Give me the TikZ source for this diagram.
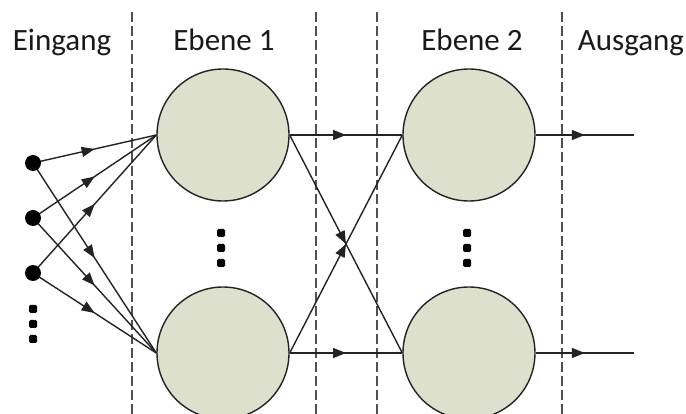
\documentclass[tikz,border=0pt]{standalone}
\usepackage{fontspec}
\setmainfont{Carlito}
\usetikzlibrary{arrows.meta,decorations.markings,backgrounds}
\definecolor{cellfill}{RGB}{221,224,204}
\definecolor{wire}{RGB}{35,35,35}
\definecolor{sep}{RGB}{80,80,80}
\tikzset{
  neuron/.style={circle, draw=wire, line width=1.4pt, fill=cellfill,
    minimum size=132pt, inner sep=0pt},
  inputdot/.style={circle, fill=black, minimum size=16pt, inner sep=0pt},
  ellipsisdot/.style={rectangle, rounded corners=1.5pt, fill=black,
    minimum size=8pt, inner sep=0pt},
  link/.style={draw=wire, line width=1.4pt, postaction={decorate},
    decoration={markings,
      mark=at position 0.5 with {\arrow{Triangle[length=13pt,width=10pt]}}}},
  separator/.style={draw=sep, line width=1.7pt, dash pattern=on 10pt off 4pt},
  title/.style={font=\fontsize{31}{36}\selectfont, text=black!90,
    anchor=base, inner sep=0pt}
}
\begin{document}
\begin{tikzpicture}[x=1pt, y=-1pt]
  \useasboundingbox (0,0) rectangle (686,414);

  % headings
  \node[title] (hin)  at (62,51)  {Eingang};
  \node[title] (h1)   at (224,51) {Ebene 1};
  \node[title] (h2)   at (472,51) {Ebene 2};
  \node[title] (hout) at (631,51) {Ausgang};

  % neurons
  \node[neuron] (a1) at (223,135) {};
  \node[neuron] (a2) at (223,353) {};
  \node[neuron] (b1) at (469,135) {};
  \node[neuron] (b2) at (469,353) {};

  % inputs
  \node[inputdot] (x1) at (33,163) {};
  \node[inputdot] (x2) at (33,218) {};
  \node[inputdot] (x3) at (33,273) {};

  % outputs
  \coordinate (y1) at (634,135);
  \coordinate (y2) at (634,353);

  % ellipses
  \node[ellipsisdot] (ex1) at (33,309) {};
  \node[ellipsisdot] (ex2) at (33,324) {};
  \node[ellipsisdot] (ex3) at (33,339) {};
  \node[ellipsisdot] (ea1) at (221,233) {};
  \node[ellipsisdot] (ea2) at (221,248) {};
  \node[ellipsisdot] (ea3) at (221,263) {};
  \node[ellipsisdot] (eb1) at (467,233) {};
  \node[ellipsisdot] (eb2) at (467,248) {};
  \node[ellipsisdot] (eb3) at (467,263) {};

  % layer separators
  \coordinate (s1t) at (132,12);  \coordinate (s1b) at (132,414);
  \coordinate (s2t) at (316,12);  \coordinate (s2b) at (316,414);
  \coordinate (s3t) at (377,12);  \coordinate (s3b) at (377,414);
  \coordinate (s4t) at (562,12);  \coordinate (s4b) at (562,414);

  \begin{scope}[on background layer]
    \draw[separator] (s1t) -- (s1b);
    \draw[separator] (s2t) -- (s2b);
    \draw[separator] (s3t) -- (s3b);
    \draw[separator] (s4t) -- (s4b);

    % input connections
    \foreach \i in {x1,x2,x3} {
      \draw[link] (\i.center) -- (a1.west);
      \draw[link] (\i.center) -- (a2.west);
    }

    % hidden connections
    \draw[link] (a1.east) -- (b1.west);
    \draw[link] (a1.east) -- (b2.west);
    \draw[link] (a2.east) -- (b1.west);
    \draw[link] (a2.east) -- (b2.west);

    % output connections
    \draw[link] (b1.east) -- (y1);
    \draw[link] (b2.east) -- (y2);
  \end{scope}
\end{tikzpicture}
\end{document}
